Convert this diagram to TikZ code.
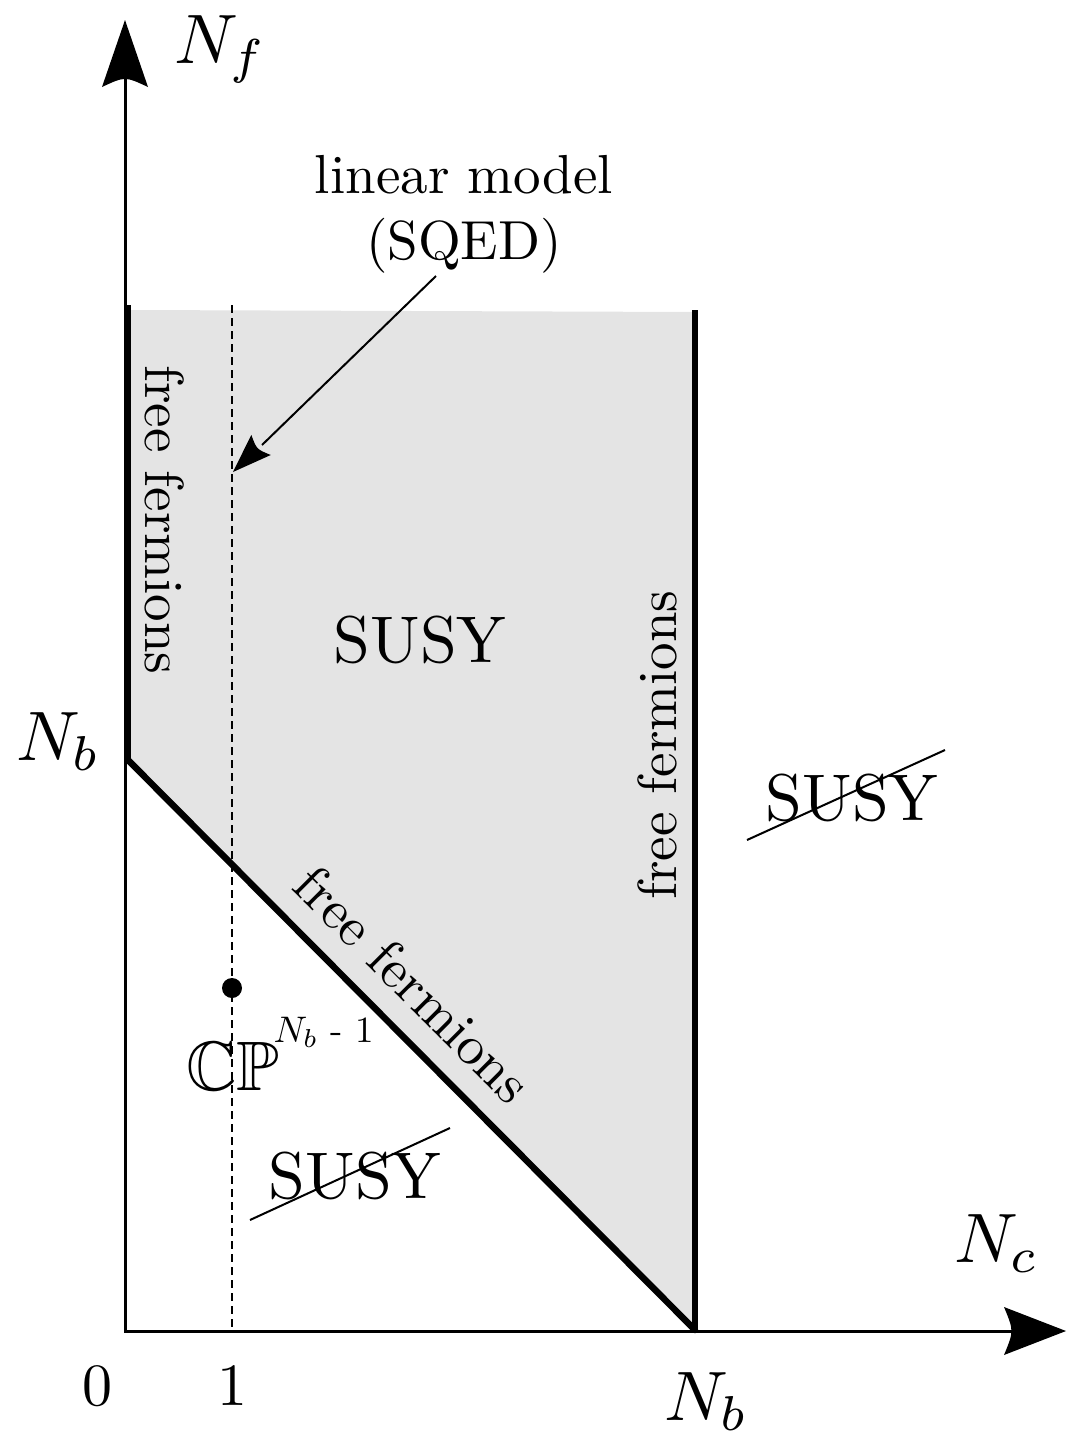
\documentclass[tikz,border=0pt]{standalone}
\usepackage{amsmath}
\usepackage{amssymb}
\usetikzlibrary{arrows.meta}
\definecolor{regiongray}{RGB}{228,228,228}
\newcommand{\curvehead}[4]{%
  \fill[shift={(#1)}, rotate=#2] (0,0) -- (-#3,#4) .. controls (-0.84*#3,0) .. (-#3,-#4) -- cycle;}
\begin{document}
\begin{tikzpicture}[x=1pt,y=-1pt,
  txt/.style={scale=5.5, inner sep=0pt},
  bigtxt/.style={scale=6.6, inner sep=0pt},
  lab/.style={scale=7.0, inner sep=0pt},
  numtxt/.style={scale=6.0, inner sep=0pt},
  axisline/.style={line width=3pt},
  boundary/.style={line width=6.5pt},
  strike/.style={line width=2pt},
  pointer/.style={line width=2pt}
]
\useasboundingbox (0,0) rectangle (1067,1438);
% key points
\coordinate (O) at (126,1330);
\coordinate (Ytip) at (125,20);
\coordinate (Yend) at (125,75);
\coordinate (Xtip) at (1066,1331);
\coordinate (Xend) at (1012,1331);
\coordinate (Atop) at (128,305);
\coordinate (B) at (128,760);
\coordinate (C) at (695,1330);
\coordinate (D) at (695,310);
\coordinate (dashtop) at (232,305);
\coordinate (dashbot) at (232,1330);
% shaded region
\fill[regiongray] (131,310) -- (695,312) -- (C) -- (B) -- cycle;
% dashed line N_c = 1
\draw[line width=1.5pt, dash pattern=on 8pt off 5pt] (dashtop) -- (dashbot);
% axes
\draw[axisline] (124,1331) -- (Xend);
\curvehead{Xtip}{0}{62}{24}
\draw[axisline] (125,1332) -- (Yend);
\curvehead{Ytip}{90}{67}{23}
% boundaries
\draw[boundary] (Atop) -- (B);
\draw[boundary, line cap=round] (B) -- (C);
\draw[boundary] (D) -- (695,1331);
% axis labels
\node[lab, anchor=base west] (Nf) at (173,63) {$N_f$};
\node[lab, anchor=base west] (Nc) at (953,1262) {$N_c$};
\node[lab, anchor=base east] (Nbl) at (102,760) {$N_b$};
\node[lab, anchor=base west] (Nbb) at (663,1420) {$N_b$};
\node[numtxt, anchor=base] (zero) at (97,1405) {0};
\node[numtxt, anchor=base] (one) at (232,1405) {1};
% linear model label and pointer
\node[txt, align=center] (lin) at (464,214) {linear model\\(SQED)};
\coordinate (ptrstart) at (436,276);
\coordinate (ptrback) at (262,445);
\coordinate (ptrend) at (233,472);
\draw[pointer] (ptrstart) -- (ptrback);
\curvehead{ptrend}{224}{39}{14}
% region labels
\node[bigtxt] (susy) at (420,640) {SUSY};
\node[bigtxt] (susyR) at (852,798) {SUSY};
\draw[strike] (747,840) -- (945,750);
\node[bigtxt] (susyL) at (355,1176) {SUSY};
\draw[strike] (250,1220) -- (450,1128);
% free fermions labels
\node[txt, rotate=-90] (ffL) at (165,520) {free fermions};
\node[txt, rotate=90] (ffR) at (657,745) {free fermions};
\node[txt, rotate=-45] (ffD) at (413,984) {free fermions};
% CP point
\fill (232,988) circle (10pt);
\node[lab, anchor=base west] (cp) at (185,1090) {$\mathbb{CP}$};
\node[scale=3.7, inner sep=0pt, anchor=base west] (cpsup) at (273,1042) {$N_b$ - 1};
\end{tikzpicture}
\end{document}
